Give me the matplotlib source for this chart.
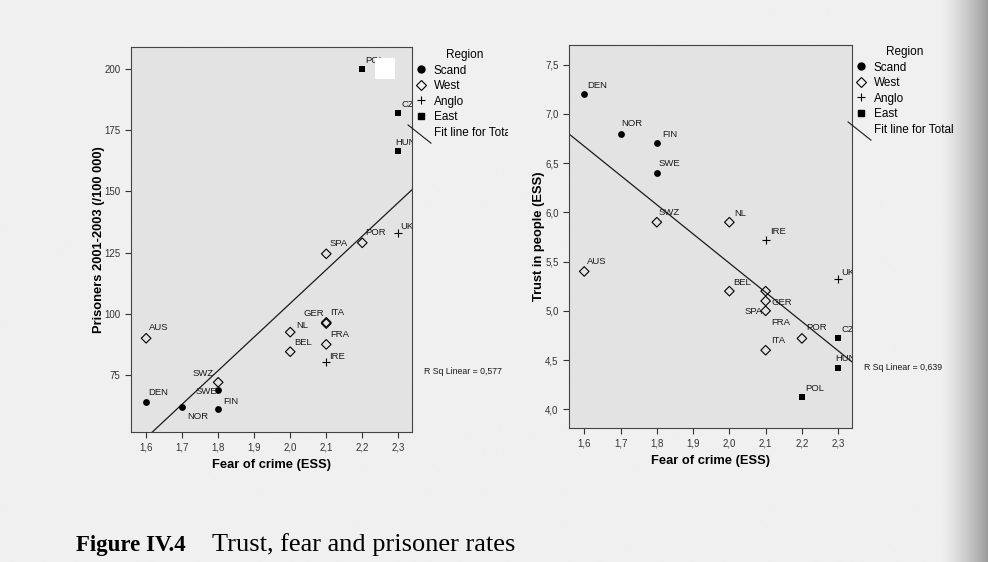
"""
Figure IV.4 - trust, fear of crime and prisoner rates (two SPSS-style scatter plots).
"""

import numpy as np
import matplotlib
matplotlib.use('Agg')
import matplotlib.pyplot as plt
from matplotlib.lines import Line2D
from matplotlib.patches import Rectangle
from matplotlib.legend_handler import HandlerBase
from matplotlib.ticker import FuncFormatter
from matplotlib.transforms import Bbox, TransformedBbox

plt.rcParams['font.family'] = ['Liberation Sans', 'DejaVu Sans']

# ---- data ----
countries = ['DEN', 'NOR', 'SWE', 'FIN', 'SWZ', 'AUS', 'BEL', 'NL', 'GER',
             'ITA', 'FRA', 'IRE', 'SPA', 'POR', 'UK', 'POL', 'CZ', 'HUN']
region = ['Scand', 'Scand', 'Scand', 'Scand', 'West', 'West', 'West', 'West', 'West',
          'West', 'West', 'Anglo', 'West', 'West', 'Anglo', 'East', 'East', 'East']
fear = [1.6, 1.7, 1.8, 1.8, 1.8, 1.6, 2.0, 2.0, 2.1,
        2.1, 2.1, 2.1, 2.1, 2.2, 2.3, 2.2, 2.3, 2.3]
prisoners = [64, 62, 69, 61, 72, 90, 84.5, 92.5, 96,
             96.5, 87.5, 80.5, 124.5, 129, 133, 200, 182, 166.5]
trust = [7.2, 6.8, 6.4, 6.7, 5.9, 5.4, 5.2, 5.9, 5.2,
         4.6, 5.1, 5.72, 5.0, 4.72, 5.32, 4.12, 4.72, 4.42]

regions = ['Scand', 'West', 'Anglo', 'East']
rsq_prisoners = '0,577'
rsq_trust = '0,639'

# ---- styling ----
STYLE = {
    'Scand': dict(marker='o', s=24, c='black', linewidths=0),
    'West': dict(marker='D', s=24, facecolors='none', edgecolors='black', linewidths=0.8),
    'Anglo': dict(marker='+', s=26, c='black', linewidths=0.8),
    'East': dict(marker='s', s=20, c='black', linewidths=0),
}

# label offsets in pixels (dx, dy, ha)
OFFSET_LEFT = {
    'DEN': (2, 9, 'left'), 'NOR': (5, -10, 'left'), 'SWE': (-1, -2, 'right'),
    'FIN': (5, 8, 'left'), 'SWZ': (-4, 9, 'right'), 'AUS': (3, 11, 'left'),
    'BEL': (4, 9, 'left'), 'NL': (6, 7, 'left'), 'GER': (-2, 10, 'right'),
    'ITA': (4, 10, 'left'), 'FRA': (4, 10, 'left'), 'IRE': (3, 5, 'left'),
    'SPA': (3, 10, 'left'), 'POR': (3, 10, 'left'), 'UK': (2, 7, 'left'),
    'POL': (3, 9, 'left'), 'CZ': (3, 9, 'left'), 'HUN': (-3, 9, 'left'),
}
OFFSET_RIGHT = {
    'DEN': (3, 9, 'left'), 'NOR': (1, 10, 'left'), 'SWE': (2, 9, 'left'),
    'FIN': (5, 9, 'left'), 'SWZ': (2, 10, 'left'), 'AUS': (3, 10, 'left'),
    'BEL': (4, 9, 'left'), 'NL': (5, 9, 'left'), 'GER': (6, -11, 'left'),
    'ITA': (5, 10, 'left'), 'FRA': (6, -22, 'left'), 'IRE': (4, 8, 'left'),
    'SPA': (-3, -1, 'right'), 'POR': (4, 11, 'left'), 'UK': (3, 7, 'left'),
    'POL': (3, 9, 'left'), 'CZ': (3, 9, 'left'), 'HUN': (-3, 9, 'left'),
}

W, H = 988, 562
PANEL = '#e3e3e3'
INK = '#1a1a1a'


class HandlerDiagonal(HandlerBase):
    def create_artists(self, legend, orig_handle, xdescent, ydescent,
                       width, height, fontsize, trans):
        x0, y0 = -xdescent, -ydescent
        line = Line2D([x0 - 5, x0 + width + 3], [y0 + height * 1.3, y0 - height * 0.9],
                      color=INK, lw=0.8, transform=trans)
        return [line]


def comma(fmt):
    return FuncFormatter(lambda v, p: (fmt % v).replace('.', ','))


def scatter_panel(ax, yvals, offsets, ylim, yticks, yfmt, ylabel, ypad):
    x = np.array(fear)
    y = np.array(yvals)
    ax.set_facecolor(PANEL)
    for reg in regions:
        idx = [i for i, r in enumerate(region) if r == reg]
        ax.scatter(x[idx], y[idx], zorder=3, **STYLE[reg])

    # fit line for total
    slope, intercept = np.polyfit(x, y, 1)
    xl = np.array([1.558, 2.338])
    ax.plot(xl, intercept + slope * xl, color=INK, lw=0.9, zorder=2)

    for name, xi, yi in zip(countries, x, y):
        dx, dy, ha = offsets[name]
        ax.annotate(name, (xi, yi), xytext=(dx, dy), textcoords='offset pixels',
                    ha=ha, va='center', fontsize=6.8, color=INK,
                    annotation_clip=False, clip_on=True)

    ax.set_xlim(1.558, 2.338)
    ax.set_ylim(*ylim)
    ax.set_xticks([1.6, 1.7, 1.8, 1.9, 2.0, 2.1, 2.2, 2.3])
    ax.set_yticks(yticks)
    ax.xaxis.set_major_formatter(comma('%.1f'))
    ax.yaxis.set_major_formatter(comma(yfmt))
    ax.tick_params(direction='out', length=4, width=0.8, labelsize=7, colors='#333333',
                   top=False, right=False)
    for sp in ax.spines.values():
        sp.set_color('#444444')
        sp.set_linewidth(0.8)
    ax.set_xlabel('Fear of crime (ESS)', fontsize=9.3, fontweight='bold', labelpad=5)
    ax.set_ylabel(ylabel, fontsize=9.3, fontweight='bold', labelpad=ypad)


fig = plt.figure(figsize=(W / 100, H / 100), dpi=100)

# scanned page: light grey, shading towards the right edge (page curvature)
bg = fig.add_axes([0, 0, 1, 1], zorder=-10)
cols = np.arange(W)
shade = np.where(cols < 940, 0.94, 0.94 - 0.34 * ((cols - 940) / (W - 940)) ** 1.3)
bg.imshow(np.tile(shade, (2, 1)), cmap='gray', vmin=0, vmax=1, aspect='auto',
          extent=[0, 1, 0, 1], interpolation='bilinear')
bg.set_axis_off()

ax1 = fig.add_axes([131 / W, 1 - 432 / H, 281 / W, 385 / H])
ax2 = fig.add_axes([569 / W, 1 - 428 / H, 283 / W, 383 / H])

scatter_panel(ax1, prisoners, OFFSET_LEFT, (51.7, 209), [75, 100, 125, 150, 175, 200], '%d',
              'Prisoners 2001-2003 (/100 000)', -0.5)
scatter_panel(ax2, trust, OFFSET_RIGHT, (3.81, 7.70), [4.0, 4.5, 5.0, 5.5, 6.0, 6.5, 7.0, 7.5],
              '%.1f', 'Trust in people (ESS)', 0.2)

# legends
handles = [Line2D([], [], linestyle='none', marker='o', markersize=5, color='black'),
           Line2D([], [], linestyle='none', marker='D', markersize=4.6, markerfacecolor='none',
                  markeredgecolor='black', markeredgewidth=0.8),
           Line2D([], [], linestyle='none', marker='+', markersize=5.5, color='black',
                  markeredgewidth=0.8),
           Line2D([], [], linestyle='none', marker='s', markersize=4.5, color='black'),
           Line2D([], [], color=INK)]
labels = regions + ['Fit line for Total']

for ax, anchor in [(ax1, (415 / W, 1 - 49 / H)), (ax2, (855 / W, 1 - 46 / H))]:
    leg = ax.legend(handles, labels, loc='upper left', bbox_to_anchor=anchor,
                    bbox_transform=fig.transFigure, frameon=False, fontsize=8.5,
                    title='Region', title_fontsize=8.5, handlelength=1.0,
                    handletextpad=0.6, labelspacing=0.3, borderaxespad=0, borderpad=0,
                    handler_map={handles[-1]: HandlerDiagonal()})
    if ax is ax1:
        # the left legend is cut off by the right chart in the scan
        clip = TransformedBbox(Bbox([[0, 0], [508 / W, 1]]), fig.transFigure)
        for t in leg.get_texts():
            t.set_clip_box(clip)
            t.set_clip_on(True)

fig.text(424 / W, 1 - 372 / H, 'R Sq Linear = ' + rsq_prisoners, fontsize=6.3,
         color=INK, va='center')
fig.text(864 / W, 1 - 368 / H, 'R Sq Linear = ' + rsq_trust, fontsize=6.3,
         color=INK, va='center')

# white blotch on the scan next to POL
fig.add_artist(Rectangle((375 / W, 1 - 79 / H), 20 / W, 21 / H, transform=fig.transFigure,
                         facecolor='white', edgecolor='none', zorder=20))

# caption
serif = ['Liberation Serif', 'DejaVu Serif']
fig.text(76 / W, 1 - 545 / H, 'Figure IV.4', fontsize=16.5, fontweight='bold',
         family=serif, va='center', color='black')
fig.text(212 / W, 1 - 545 / H, 'Trust, fear and prisoner rates', fontsize=19,
         family=serif, va='center', color='black')

fig.savefig('out.png', dpi=100)
